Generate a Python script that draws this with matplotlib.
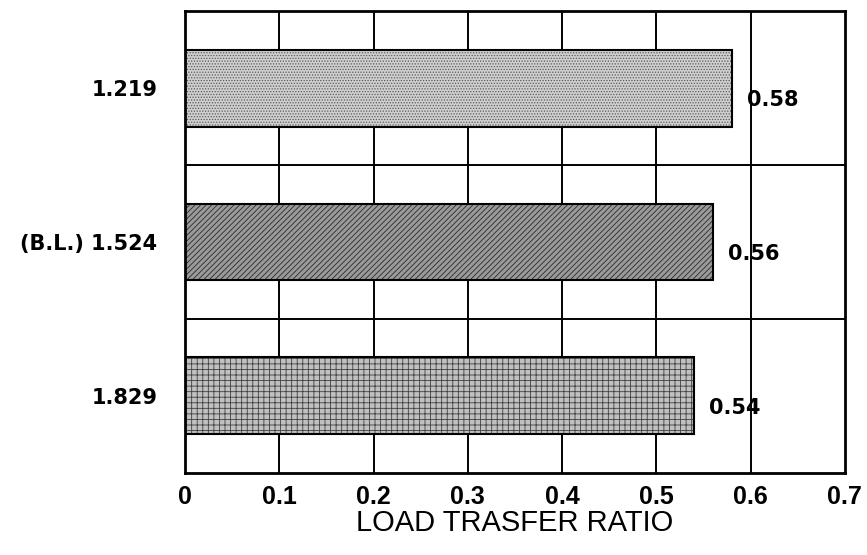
import numpy as np
import matplotlib
matplotlib.use("Agg")
import matplotlib.pyplot as plt

# --------------------------- data ---------------------------
labels = ["1.219", "(B.L.) 1.524", "1.829"]
ratios = [0.58, 0.56, 0.54]
value_text = ["0.58", "0.56", "0.54"]
xticks = [0, 0.1, 0.2, 0.3, 0.4, 0.5, 0.6, 0.7]
xtick_labels = ["0", "0.1", "0.2", "0.3", "0.4", "0.5", "0.6", "0.7"]

# fill looks for each bar (scanned screen tones)
faces = ["#cfcfcf", "#9a9a9a", "#c0c0c0"]
hatches = ["......", "//////", "+++"]
hatch_cols = ["#5a5a5a", "#2a2a2a", "#404040"]

# --------------------------- figure ---------------------------
plt.rcParams["hatch.linewidth"] = 0.6
fig = plt.figure(figsize=(8.67, 5.55), dpi=100)
ax = fig.add_axes([0.2134, 0.148, 0.761, 0.832])

ypos = np.arange(len(labels))

# gridlines behind bars
for x in xticks[1:-1]:
    ax.axvline(x, color="black", lw=1.4, zorder=1)
for y in ypos[:-1] + 0.5:
    ax.axhline(y, color="black", lw=1.4, zorder=1)

for i in range(len(labels)):
    # hatch layer then outline
    ax.barh(ypos[i], ratios[i], height=0.5, color=faces[i], hatch=hatches[i],
            edgecolor=hatch_cols[i], linewidth=0, zorder=2)
    ax.barh(ypos[i], ratios[i], height=0.5, fill=False,
            edgecolor="black", linewidth=1.5, zorder=3)
    ax.text(ratios[i] + 0.016, ypos[i] + 0.08, value_text[i], va="center",
            ha="left", fontsize=15, family="DejaVu Sans", fontweight="bold",
            zorder=4)

ax.set_xlim(0, 0.7)
ax.set_ylim(2.5, -0.5)
ax.set_yticks(ypos)
ax.set_yticklabels(labels, fontsize=15, family="DejaVu Sans", fontweight="bold")
ax.set_xticks(xticks)
ax.set_xticklabels(xtick_labels, fontsize=18, family="Liberation Sans",
                   fontweight="bold")
ax.tick_params(length=0)
ax.tick_params(axis="x", pad=9)
ax.tick_params(axis="y", pad=20)
ax.set_xlabel("LOAD TRASFER RATIO", fontsize=21, family="Liberation Sans",
              labelpad=0)
for s in ax.spines.values():
    s.set_linewidth(2)

fig.savefig("out.png", dpi=100)
